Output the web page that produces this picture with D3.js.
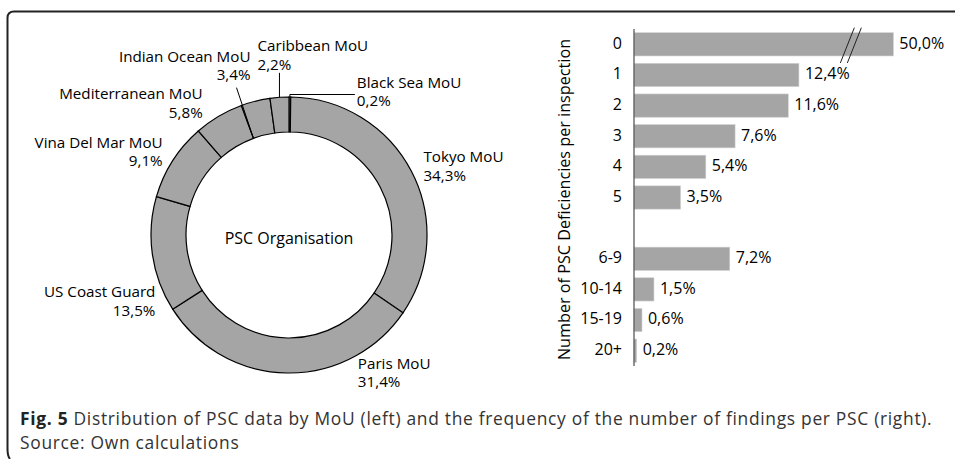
<!DOCTYPE html>
<html>
<head>
<meta charset="utf-8">
<script src="https://cdn.jsdelivr.net/npm/d3@7"></script>
<style>
  body { margin: 0; background: #fff; }
  svg { display: block; }
</style>
</head>
<body>
<div id="chart"></div>
<script>
// PSC organisation shares (clockwise from 12 o'clock)
const mouNames = ["Black Sea MoU", "Tokyo MoU", "Paris MoU", "US Coast Guard",
  "Vina Del Mar MoU", "Mediterranean MoU", "Indian Ocean MoU", "Caribbean MoU"]
const mouShares = [0.2, 34.3, 31.4, 13.5, 9.1, 5.8, 3.4, 2.2]

// deficiencies per inspection
const defCategories = ["0", "1", "2", "3", "4", "5", "6-9", "10-14", "15-19", "20+"]
const defShares = [50.0, 12.4, 11.6, 7.6, 5.4, 3.5, 7.2, 1.5, 0.6, 0.2]

const width = 955, height = 459
const font = "'Open Sans', sans-serif"
const grey = "#a5a5a5"

const fmt = d3.formatLocale({ decimal: ",", thousands: ".", grouping: [3], currency: ["", ""] }).format(".1f")
const pct = v => fmt(v) + "%"

const svg = d3.select("#chart").append("svg")
  .attr("width", width)
  .attr("height", height)
  .style("font-family", font)

// frame (rounded left corners, open on right / bottom)
svg.append("path")
  .attr("d", "M955,11.5 H14 Q7.5,11.5 7.5,18 V449 Q7.5,456 10,459")
  .attr("fill", "none")
  .attr("stroke", "#222")
  .attr("stroke-width", 2)

// ---------- donut ----------
const cx = 289, cy = 235, outerR = 138, innerR = 103

const pie = d3.pie().sort(null).value(d => d.v)
const arcs = pie(mouNames.map((n, i) => ({ name: n, v: mouShares[i] })))
const arc = d3.arc().innerRadius(innerR).outerRadius(outerR)

const donut = svg.append("g").attr("transform", `translate(${cx},${cy})`)

donut.selectAll("path")
  .data(arcs)
  .join("path")
  .attr("d", arc)
  .attr("fill", grey)
  .attr("stroke", "#000")
  .attr("stroke-width", 1.2)

donut.append("text")
  .attr("y", 5)
  .attr("text-anchor", "middle")
  .attr("dominant-baseline", "middle")
  .style("font-size", "16px")
  .text("PSC Organisation")

// point on a ring at a given angle
const polar = (a, r) => [r * Math.sin(a), -r * Math.cos(a)]

// label placement relative to the outer midpoint of each slice
const labelPos = {
  "Black Sea MoU":     { anchor: "start", dx: 67, dy: -4 },
  "Tokyo MoU":         { anchor: "start", dx: 12, dy: -4 },
  "Paris MoU":         { anchor: "start", dx: 71, dy: 1 },
  "US Coast Guard":    { anchor: "end",   dx: 3,  dy: 48 },
  "Vina Del Mar MoU":  { anchor: "end",   dx: -10, dy: -8 },
  "Mediterranean MoU": { anchor: "end",   dx: -16, dy: -12 },
  "Indian Ocean MoU":  { anchor: "end",   dx: -5, dy: -34 },
  "Caribbean MoU":     { anchor: "start", dx: -22, dy: -41 }
}

const lineH = 18.5
const labels = donut.selectAll("g.lbl")
  .data(arcs)
  .join("g")
  .attr("class", "lbl")
  .attr("transform", d => {
    const m = polar((d.startAngle + d.endAngle) / 2, outerR)
    const p = labelPos[d.data.name]
    return `translate(${m[0] + p.dx},${m[1] + p.dy})`
  })
  .attr("text-anchor", d => labelPos[d.data.name].anchor)
  .style("font-size", "15.2px")

labels.append("text")
  .attr("y", -lineH / 2)
  .attr("dominant-baseline", "middle")
  .text(d => d.data.name)
labels.append("text")
  .attr("y", lineH / 2)
  .attr("dominant-baseline", "middle")
  .text(d => pct(d.data.v))

// leader lines for the narrow slices
const leader = donut.append("g")
  .attr("fill", "none")
  .attr("stroke", "#000")
  .attr("stroke-width", 1)

const bs = arcs[0], cb = arcs[7], io = arcs[6]
const bsPt = polar((bs.startAngle + bs.endAngle) / 2, outerR)
const bsLbl = labelPos["Black Sea MoU"]
leader.append("polyline")
  .attr("points", [[bsPt[0], bsPt[1]], [bsPt[0], bsPt[1] - 2.5],
    [bsPt[0] + bsLbl.dx - 2, bsPt[1] - 2.5]].join(" "))

const cbPt = polar((cb.startAngle + cb.endAngle) / 2, outerR)
leader.append("line")
  .attr("x1", cbPt[0]).attr("y1", cbPt[1])
  .attr("x2", cbPt[0]).attr("y2", cbPt[1] + labelPos["Caribbean MoU"].dy + lineH - 2)

const ioIn = polar(io.startAngle, innerR)
const ioMid = polar((io.startAngle + io.endAngle) / 2, outerR)
const ioLbl = labelPos["Indian Ocean MoU"]
leader.append("line")
  .attr("x1", ioIn[0]).attr("y1", ioIn[1])
  .attr("x2", ioMid[0] + ioLbl.dx - 14).attr("y2", ioMid[1] + ioLbl.dy + lineH + 2)

// ---------- bar chart ----------
const axisX = 634
const breakAt = 19.5   // bars above this are drawn broken

const yKeys = defCategories.slice(0, 6).concat(["gap"], defCategories.slice(6))
const y = d3.scaleBand()
  .domain(yKeys)
  .range([29, 366])
  .paddingInner(0.24)
  .paddingOuter(0.12)

const x = d3.scaleLinear()
  .domain([0, 20])
  .range([axisX, axisX + 266])

const bars = defCategories.map((c, i) => ({ cat: c, v: defShares[i] }))

const bar = svg.append("g")
bar.selectAll("rect")
  .data(bars)
  .join("rect")
  .attr("x", x(0))
  .attr("y", d => y(d.cat))
  .attr("width", d => x(Math.min(d.v, breakAt)) - x(0))
  .attr("height", y.bandwidth())
  .attr("fill", grey)
  .attr("stroke", "#d0d0d0")
  .attr("stroke-width", 0.6)

bar.selectAll("text.val")
  .data(bars)
  .join("text")
  .attr("class", "val")
  .attr("x", d => x(Math.min(d.v, breakAt)) + 6)
  .attr("y", d => y(d.cat) + y.bandwidth() / 2)
  .attr("dominant-baseline", "middle")
  .style("font-size", "16px")
  .text(d => pct(d.v))

bar.selectAll("text.cat")
  .data(bars)
  .join("text")
  .attr("class", "cat")
  .attr("x", axisX - 12)
  .attr("y", d => y(d.cat) + y.bandwidth() / 2)
  .attr("text-anchor", "end")
  .attr("dominant-baseline", "middle")
  .style("font-size", "16px")
  .text(d => d.cat)

// axis line
bar.append("line")
  .attr("x1", axisX).attr("x2", axisX)
  .attr("y1", y.range()[0]).attr("y2", y.range()[1])
  .attr("stroke", "#595959")
  .attr("stroke-width", 1.3)

// break marks on the broken bar
bars.filter(d => d.v > breakAt).forEach(d => {
  const bx = x(breakAt) - 46, top = y(d.cat) - 5, bot = y(d.cat) + y.bandwidth() + 7
  ;[0, 7].forEach(o => {
    bar.append("line")
      .attr("x1", bx + o + 7).attr("y1", top)
      .attr("x2", bx + o - 7).attr("y2", bot)
      .attr("stroke", "#222")
      .attr("stroke-width", 1)
  })
})

svg.append("text")
  .attr("transform", `translate(566,${(y.range()[0] + y.range()[1]) / 2 + 2}) rotate(-90)`)
  .attr("text-anchor", "middle")
  .attr("dominant-baseline", "middle")
  .style("font-size", "16.2px")
  .text("Number of PSC Deficiencies per inspection")

// ---------- caption ----------
const cap = svg.append("g")
  .style("font-size", "17.4px")
  .style("letter-spacing", "0.7px")
  .attr("fill", "#333")
const line1 = cap.append("text").attr("x", 20).attr("y", 424.5)
line1.append("tspan").style("font-weight", "bold").attr("fill", "#222").text("Fig. 5")
line1.append("tspan").text(" Distribution of PSC data by MoU (left) and the frequency of the number of findings per PSC (right).")
cap.append("text").attr("x", 20).attr("y", 448.5).text("Source: Own calculations")
</script>
</body>
</html>
